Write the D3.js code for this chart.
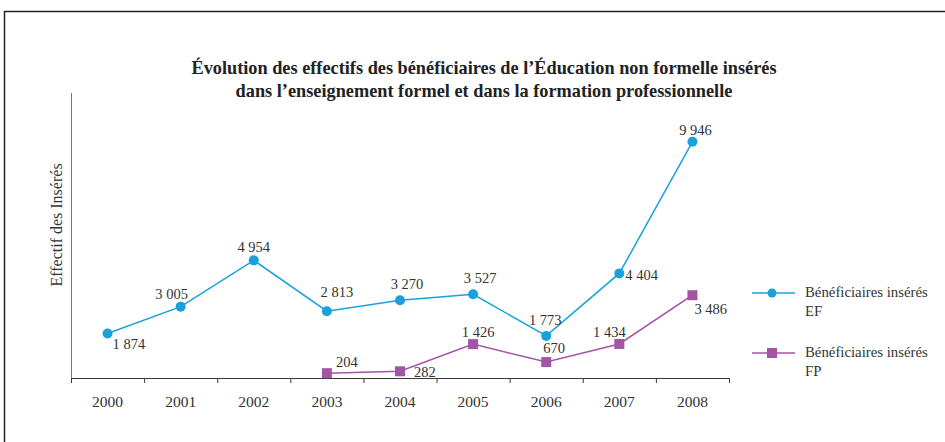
<!DOCTYPE html>
<html>
<head>
<meta charset="utf-8">
<script src="https://cdn.jsdelivr.net/npm/d3@7"></script>
<style>
	body { margin: 0; background: #fff; }
	svg { display: block; font-family: "Liberation Serif", "DejaVu Serif", serif; }
</style>
</head>
<body>
<div id="chart"></div>
<script>
// data
var years = ["2000", "2001", "2002", "2003", "2004", "2005", "2006", "2007", "2008"];
var efValues = [1874, 3005, 4954, 2813, 3270, 3527, 1773, 4404, 9946];
var fpValues = [null, null, null, 204, 282, 1426, 670, 1434, 3486];
var seriesNames = ["Bénéficiaires insérés EF", "Bénéficiaires insérés FP"];
var titleLines = [
	"Évolution des effectifs des bénéficiaires de l’Éducation non formelle insérés",
	"dans l’enseignement formel et dans la formation professionnelle"
];

// label placement (dx, dy from point, anchor)
var efLabelPos = [
	[5, 16, "start"], [-9, -8, "middle"], [0, -8, "middle"], [10, -14, "middle"],
	[7, -11, "middle"], [7, -11, "middle"], [-1, -11, "middle"], [6, 7, "start"], [3, -7, "middle"]
];
var fpLabelPos = [
	null, null, null, [9, -6, "start"], [14, 6, "start"], [5, -7, "middle"],
	[8, -9, "middle"], [-10, -7, "middle"], [2, 19, "start"]
];

var width = 945, height = 442;
var margin = { left: 71, right: 216, top: 93, bottom: 64 };
var blue = "#1aa1dc", purple = "#a254a5", axisColor = "#3a3a3a", textColor = "#333";

var fmt = d3.formatLocale({ decimal: ",", thousands: "\u00a0", grouping: [3], currency: ["", ""] }).format(",d");

var svg = d3.select("#chart").append("svg")
	.attr("width", width)
	.attr("height", height);

// outer frame (open on the right and bottom)
svg.append("path")
	.attr("d", "M4.5," + height + "V11.5H" + width)
	.attr("fill", "none")
	.attr("stroke", "#222")
	.attr("stroke-width", 1.5);

// title
svg.append("text")
	.attr("x", 484)
	.attr("y", 74)
	.attr("text-anchor", "middle")
	.attr("font-weight", "bold")
	.attr("font-size", 18.3)
	.attr("fill", "#222")
	.selectAll("tspan")
	.data(titleLines)
	.join("tspan")
	.attr("x", 484)
	.attr("dy", (d, i) => i ? 23 : 0)
	.text(d => d);

var x = d3.scaleBand()
	.domain(years)
	.range([margin.left, width - margin.right]);

var y = d3.scaleLinear()
	.domain([0, 12000])
	.range([height - margin.bottom, margin.top]);

var axisY = height - margin.bottom;

// x axis: tick marks on band boundaries
var xAxis = svg.append("g")
	.attr("transform", "translate(0," + axisY + ")")
	.call(d3.axisBottom(x).tickSize(0).tickPadding(18))
	.call(g => g.select(".domain").remove());

xAxis.selectAll("text")
	.attr("font-family", "Liberation Serif, serif")
	.attr("font-size", 15.5)
	.attr("fill", textColor);

var bounds = years.map(d => x(d)).concat([x.range()[1]]);
svg.append("g")
	.selectAll("line")
	.data(bounds)
	.join("line")
	.attr("x1", d => d + 0.5)
	.attr("x2", d => d + 0.5)
	.attr("y1", axisY)
	.attr("y2", axisY + 5)
	.attr("stroke", axisColor);

svg.append("line")
	.attr("x1", margin.left)
	.attr("x2", width - margin.right + 1)
	.attr("y1", axisY + 0.5)
	.attr("y2", axisY + 0.5)
	.attr("stroke", axisColor)
	.attr("stroke-width", 1.2);

svg.append("line")
	.attr("x1", margin.left + 0.5)
	.attr("x2", margin.left + 0.5)
	.attr("y1", margin.top)
	.attr("y2", axisY)
	.attr("stroke", "#777")
	.attr("stroke-width", 1);

// y axis title
svg.append("text")
	.attr("transform", "translate(62,225) rotate(-90)")
	.attr("text-anchor", "middle")
	.attr("font-size", 16)
	.attr("fill", textColor)
	.text("Effectif des Insérés");

var cx = d => x(d) + x.bandwidth() / 2;

function drawSeries(values, color, shape, labelPos) {
	var pts = values.map((v, i) => ({ year: years[i], value: v, pos: labelPos[i] }))
		.filter(d => d.value != null);

	var line = d3.line()
		.x(d => cx(d.year))
		.y(d => y(d.value));

	svg.append("path")
		.datum(pts)
		.attr("fill", "none")
		.attr("stroke", color)
		.attr("stroke-width", 1.5)
		.attr("d", line);

	var g = svg.append("g");
	if (shape === "circle") {
		g.selectAll("circle")
			.data(pts)
			.join("circle")
			.attr("cx", d => cx(d.year))
			.attr("cy", d => y(d.value))
			.attr("r", 5)
			.attr("fill", color);
	} else {
		g.selectAll("rect")
			.data(pts)
			.join("rect")
			.attr("x", d => cx(d.year) - 5)
			.attr("y", d => y(d.value) - 5)
			.attr("width", 10)
			.attr("height", 10)
			.attr("fill", color);
	}

	svg.append("g")
		.selectAll("text")
		.data(pts)
		.join("text")
		.attr("x", d => cx(d.year) + d.pos[0])
		.attr("y", d => y(d.value) + d.pos[1])
		.attr("text-anchor", d => d.pos[2])
		.attr("font-size", 14.5)
		.attr("fill", textColor)
		.text(d => fmt(d.value));
}

drawSeries(efValues, blue, "circle", efLabelPos);
drawSeries(fpValues, purple, "square", fpLabelPos);

// legend
var legend = svg.append("g")
	.selectAll("g")
	.data(seriesNames)
	.join("g")
	.attr("transform", (d, i) => "translate(752," + (293 + i * 60) + ")");

legend.append("line")
	.attr("x1", 0)
	.attr("x2", 43)
	.attr("stroke", (d, i) => i ? purple : blue)
	.attr("stroke-width", 1.5);

legend.filter((d, i) => i === 0).append("circle")
	.attr("cx", 20)
	.attr("r", 4.5)
	.attr("fill", blue);

legend.filter((d, i) => i === 1).append("rect")
	.attr("x", 15)
	.attr("y", -5)
	.attr("width", 10)
	.attr("height", 10)
	.attr("fill", purple);

legend.append("text")
	.attr("font-size", 14.8)
	.attr("fill", textColor)
	.selectAll("tspan")
	.data(d => {
		var k = d.lastIndexOf(" ");
		return [d.slice(0, k), d.slice(k + 1)];
	})
	.join("tspan")
	.attr("x", 53)
	.attr("y", (d, i) => 4 + i * 19)
	.text(d => d);
</script>
</body>
</html>
